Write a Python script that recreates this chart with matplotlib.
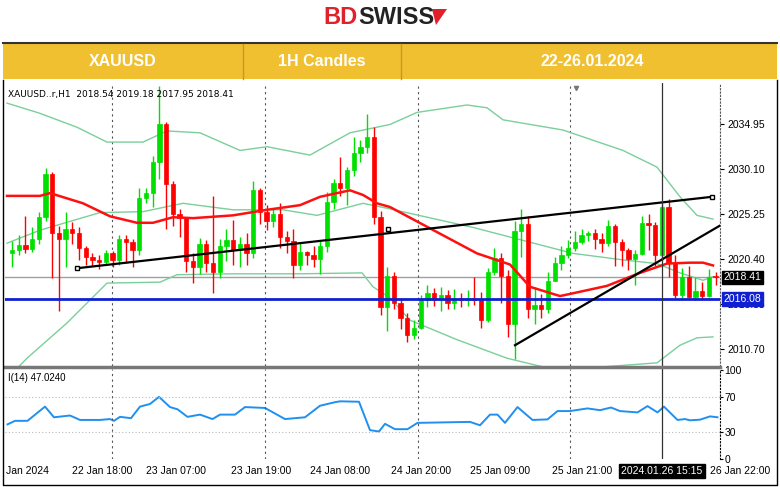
import numpy as np
import matplotlib
matplotlib.use("Agg")
from matplotlib import pyplot as plt
from matplotlib.patches import Rectangle, Polygon

W, H = 780, 487

# ---- candle data (1H, XAUUSD) ----
first_open = 2021.0
closes = [2021.4, 2021.9, 2021.5, 2022.6, 2024.9, 2029.6, 2023.2, 2022.6, 2023.6, 2023.2,
          2021.6, 2020.6, 2020.3, 2020.1, 2021.0, 2020.3, 2022.5, 2022.2, 2021.4, 2027.0,
          2027.5, 2030.8, 2035.0, 2028.5, 2025.2, 2024.8, 2020.2, 2019.5, 2022.0, 2020.0,
          2019.0, 2021.8, 2022.4, 2021.4, 2022.0, 2021.0, 2027.8, 2025.5, 2024.5, 2025.2,
          2022.8, 2022.3, 2019.8, 2021.2, 2020.8, 2020.4, 2021.8, 2026.5, 2028.6, 2028.0,
          2030.0, 2031.8, 2032.5, 2033.6, 2024.9, 2015.2, 2018.6, 2015.6, 2014.0, 2012.2,
          2013.0, 2016.0, 2016.7, 2016.0, 2016.5, 2015.6, 2016.2, 2016.0, 2016.2, 2016.0,
          2013.8, 2019.0, 2020.5, 2018.6, 2013.4, 2023.4, 2024.2, 2015.0, 2015.4, 2015.0,
          2018.0, 2020.0, 2020.8, 2021.6, 2022.2, 2023.0, 2023.2, 2022.6, 2022.1, 2024.0,
          2022.2, 2021.4, 2020.4, 2020.9, 2024.3, 2024.1, 2020.8, 2026.0, 2020.0, 2016.5,
          2018.5, 2016.3, 2016.9, 2016.4, 2018.5, 2018.41]
highs = [2022.3, 2023.0, 2025.0, 2023.8, 2025.5, 2030.2, 2029.8, 2024.0, 2025.5, 2024.4,
         2023.8, 2021.8, 2021.0, 2020.8, 2021.4, 2021.3, 2023.0, 2023.0, 2022.6, 2028.0,
         2028.0, 2031.5, 2039.0, 2035.2, 2028.8, 2025.8, 2024.8, 2021.0, 2022.7, 2022.4,
         2027.2, 2022.6, 2023.6, 2024.6, 2022.8, 2023.2, 2028.8, 2028.0, 2026.2, 2025.8,
         2026.4, 2023.4, 2023.6, 2022.2, 2021.3, 2021.8, 2022.3, 2027.6, 2029.0, 2031.4,
         2030.3, 2033.5, 2033.2, 2036.0, 2034.6, 2025.6, 2019.5, 2019.0, 2016.2, 2014.6,
         2013.8, 2016.5, 2017.6, 2017.3, 2017.4, 2017.0, 2017.2, 2016.7, 2017.0, 2018.5,
         2016.8, 2019.4, 2021.6, 2021.0, 2019.2, 2024.5, 2025.8, 2025.0, 2017.4, 2016.6,
         2019.0, 2020.6, 2021.8, 2022.4, 2023.4, 2023.6, 2023.4, 2023.6, 2023.2, 2024.6,
         2024.2, 2022.5, 2021.6, 2021.4, 2025.0, 2025.2, 2024.4, 2026.3, 2026.9, 2020.8,
         2019.4, 2019.6, 2018.5, 2017.9, 2019.3, 2019.0]
lows = [2019.5, 2020.8, 2021.0, 2021.2, 2022.0, 2024.5, 2018.3, 2014.8, 2019.5, 2022.0,
        2020.3, 2019.8, 2019.6, 2019.3, 2019.8, 2019.5, 2019.8, 2020.0, 2019.5, 2020.8,
        2026.4, 2026.0, 2029.0, 2023.6, 2024.0, 2022.8, 2019.0, 2017.8, 2018.8, 2019.0,
        2016.7, 2018.4, 2020.2, 2019.8, 2019.5, 2019.8, 2020.5, 2024.2, 2023.5, 2023.8,
        2021.6, 2021.0, 2018.3, 2019.2, 2019.8, 2019.5, 2018.8, 2021.2, 2025.8, 2027.2,
        2026.2, 2029.3, 2030.8, 2031.8, 2024.2, 2014.4, 2012.6, 2015.0, 2012.8, 2011.4,
        2011.8, 2012.8, 2015.2, 2015.3, 2014.8, 2015.0, 2015.0, 2015.2, 2015.3, 2015.4,
        2013.0, 2013.6, 2018.7, 2015.6, 2012.0, 2009.6, 2020.6, 2014.0, 2013.4, 2014.0,
        2014.6, 2018.0, 2019.2, 2020.5, 2021.3, 2022.0, 2022.3, 2021.5, 2021.2, 2021.8,
        2019.6, 2019.6, 2019.2, 2017.6, 2020.8, 2021.4, 2019.6, 2020.2, 2018.5, 2016.2,
        2016.0, 2016.2, 2016.0, 2016.0, 2016.3, 2017.6]

# ---- indicator lines (x in screen px, value) ----
upper_px = [7, 40, 77, 107, 143, 167, 200, 240, 267, 310, 350, 390, 417, 467, 487, 503, 563, 623, 657, 680, 697, 713]
upper_val = [2037.2, 2036.1, 2034.6, 2033.0, 2033.0, 2034.2, 2034.0, 2032.1, 2032.5, 2031.6, 2034.0, 2034.9,
             2036.2, 2037.0, 2036.7, 2035.4, 2034.3, 2032.1, 2030.3, 2027.1, 2025.1, 2024.7]
mid_px = [7, 40, 100, 143, 183, 233, 283, 317, 363, 390, 423, 473, 523, 573, 623, 657, 680, 703, 713]
mid_val = [2022.1, 2023.5, 2025.4, 2025.5, 2026.4, 2025.7, 2025.7, 2025.1, 2026.4, 2025.8, 2025.0, 2023.8,
           2022.4, 2021.0, 2020.3, 2019.9, 2018.9, 2018.1, 2018.5]
lower_px = [7, 27, 67, 107, 160, 177, 233, 300, 362, 373, 390, 410, 457, 507, 557, 657, 680, 697, 713]
lower_val = [2007.5, 2009.7, 2013.5, 2017.8, 2017.9, 2018.7, 2018.8, 2018.8, 2018.9, 2017.4, 2016.2, 2013.8,
             2011.7, 2009.7, 2008.4, 2009.2, 2011.1, 2011.9, 2012.0]
ma_px = [7, 40, 50, 83, 110, 137, 153, 173, 193, 233, 267, 300, 320, 350, 363, 377, 390, 430, 477, 510,
         530, 560, 573, 607, 640, 667, 690, 703, 713]
ma_val = [2027.2, 2027.2, 2027.5, 2026.4, 2025.0, 2024.3, 2024.3, 2024.9, 2024.8, 2025.1, 2025.7, 2026.2,
          2027.1, 2027.8, 2027.3, 2026.4, 2026.0, 2023.7, 2021.0, 2019.8, 2017.4, 2016.4, 2016.7, 2017.5,
          2018.9, 2019.9, 2020.0, 2020.0, 2019.7]

rsi_px = [7.5, 15, 27.5, 45, 54, 70, 80, 100, 110, 114, 120, 131, 140, 150, 159, 170, 177.5, 187.5, 200, 212.5,
          220, 235, 245, 265, 285, 305, 320, 335, 340, 359, 370, 379, 385, 395, 407.5, 417.5, 470, 480, 490, 497.5,
          505, 517.5, 532.5, 547.5, 557.5, 570, 587.5, 600, 611, 620, 637.5, 647.5, 657.5, 664, 677.5, 685,
          690, 700, 710, 717.5]
rsi_val = [39, 43, 43, 59, 47, 49, 44, 44, 45, 43, 47.5, 46, 59, 62, 70, 58.5, 56, 47.5, 50, 45,
           50, 50, 58.5, 57.5, 45, 47, 60, 64, 65, 64.5, 32.5, 31, 39.6, 33.6, 33.6, 40.7, 41.8, 38, 50, 50,
           40.7, 58.5, 44, 44.6, 54, 54, 57, 55, 58, 54, 52.5, 59.6, 52.5, 59, 44, 45,
           43.6, 44.3, 48, 47]

time_labels = ["Jan 2024", "22 Jan 18:00", "23 Jan 07:00", "23 Jan 19:00", "24 Jan 08:00",
               "24 Jan 20:00", "25 Jan 09:00", "25 Jan 21:00", "26 Jan 22:00"]
time_label_px = [27, 102, 176, 261, 340, 421, 500, 582, 740]
price_ticks = [2034.95, 2030.10, 2025.25, 2020.40, 2015.55, 2010.70]
last_price = 2018.41
level_price = 2016.08

X0, STEP = 12, 6.7


def bar(px):
    return (np.asarray(px, dtype=float) - X0) / STEP


def rect(x0, y0, x1, y1):
    return [x0 / W, 1 - y1 / H, (x1 - x0) / W, (y1 - y0) / H]


fig = plt.figure(figsize=(W / 100, H / 100), dpi=100)
fig.patch.set_facecolor("white")

# header logo
fig.text(358 / W, 1 - 17 / H, "BD", color="#E0202A", fontsize=17, fontweight="bold",
         ha="right", va="center", family="Liberation Sans")
fig.text(358 / W, 1 - 17 / H, "SWISS", color="#222222", fontsize=17, fontweight="bold",
         ha="left", va="center", family="Liberation Sans")
fig.patches.append(Polygon([(432 / W, 1 - 9 / H), (447 / W, 1 - 9 / H), (436 / W, 1 - 25 / H)],
                           closed=True, transform=fig.transFigure, facecolor="#E0202A", edgecolor="none"))
fig.patches.append(Rectangle((3 / W, 1 - 79 / H), 774 / W, 36 / H, transform=fig.transFigure,
                             facecolor="#F0C030", edgecolor="none"))
fig.lines.append(plt.Line2D([3 / W, 777 / W], [1 - 43 / H] * 2, transform=fig.transFigure,
                            color="#333333", lw=1.5))
for xd in (243, 401):
    fig.lines.append(plt.Line2D([xd / W] * 2, [1 - 44 / H, 1 - 79 / H], transform=fig.transFigure,
                                color="#C89820", lw=1))
for txt, cx in (("XAUUSD", 123), ("1H Candles", 322), ("22-26.01.2024", 592)):
    fig.text(cx / W, 1 - 61 / H, txt, color="white", fontsize=11.5, fontweight="bold",
             ha="center", va="center", family="Liberation Sans")

# ---- main price panel ----
ax = fig.add_axes(rect(5, 83, 720, 366))
n = len(closes)
opens = [first_open] + closes[:-1]
xs = np.arange(n)
for i in range(n):
    o, c = opens[i], closes[i]
    col = "#00E000" if c >= o else "#FF0000"
    ax.vlines(xs[i], lows[i], highs[i], color=col, lw=1, zorder=3)
    ax.add_patch(Rectangle((xs[i] - 0.32, min(o, c)), 0.64, max(abs(c - o), 0.12),
                           facecolor=col, edgecolor=col, lw=0.5, zorder=4))

ax.plot(bar(upper_px), upper_val, color="#7ACF9A", lw=1, zorder=2)
ax.plot(bar(mid_px), mid_val, color="#7ACF9A", lw=1, zorder=2)
ax.plot(bar(lower_px), lower_val, color="#7ACF9A", lw=1, zorder=2)
ax.plot(bar(ma_px), ma_val, color="#FF1010", lw=1.8, zorder=5)

# trend lines
ax.plot(bar([77, 712]), [2019.4, 2027.1], color="black", lw=1.6, zorder=6)
ax.plot(bar([77, 712]), [2019.4, 2027.1], ls="none", marker="s", ms=3.5, mfc="white", mec="black", zorder=7)
ax.plot(bar([388]), [2023.6], ls="none", marker="s", ms=3, mfc="white", mec="black", zorder=7)
ax.plot(bar([515, 720]), [2011.1, 2024.0], color="black", lw=1.6, zorder=6)

ax.axhline(last_price, color="#A0A0A0", lw=1, zorder=1)
ax.axhline(level_price, color="#1020D0", lw=2, zorder=5)

for gx in (112, 265, 418, 570, 720):
    ax.axvline(bar(gx), color="#555555", lw=0.8, ls=(0, (2, 3)), zorder=1)
ax.axvline(bar(662), color="#333333", lw=0.9, zorder=6)
ax.plot(bar([576]), [2038.8], marker="v", color="#777777", ms=3)

ax.set_xlim(bar(5), bar(720))
ax.set_ylim(2008.86, 2039.37)
ax.set_xticks([])
ax.yaxis.tick_right()
ax.set_yticks(price_ticks)
ax.set_yticklabels([f"{p:.2f}" for p in price_ticks], fontsize=7.5, family="Liberation Sans")
ax.tick_params(axis="y", length=3, pad=2)
for s in ("top", "left", "bottom"):
    ax.spines[s].set_visible(False)
ax.spines["right"].set_linestyle((0, (1, 2)))
ax.spines["right"].set_color("#555555")

for val, fc in ((last_price, "black"), (level_price, "#1020D0")):
    ax.text(1.005, val, f"{val:.2f}", transform=ax.get_yaxis_transform(), fontsize=7.5,
            color="white", va="center", ha="left", family="Liberation Sans", zorder=10,
            bbox=dict(boxstyle="square,pad=0.15", fc=fc, ec=fc))

fig.text(8 / W, 1 - 94 / H, "XAUUSD..r,H1  2018.54 2019.18 2017.95 2018.41", fontsize=6.5,
         va="center", family="Liberation Sans Narrow")

# separator
fig.lines.append(plt.Line2D([5 / W, 720 / W], [1 - 367 / H] * 2, transform=fig.transFigure,
                            color="#777777", lw=2.5))

# ---- RSI panel ----
ax2 = fig.add_axes(rect(5, 369, 720, 459))
ax2.plot(bar(rsi_px), rsi_val, color="#2090F0", lw=1.4)
for lv in (70, 30):
    ax2.axhline(lv, color="#BBBBBB", lw=0.8, ls=(0, (1, 2)))
for gx in (112, 265, 418, 570, 720):
    ax2.axvline(bar(gx), color="#555555", lw=0.8, ls=(0, (2, 3)))
ax2.axvline(bar(662), color="#333333", lw=0.9)
ax2.set_xlim(bar(5), bar(720))
ax2.set_ylim(4, 101.4)
ax2.set_xticks([])
ax2.yaxis.tick_right()
ax2.set_yticks([100, 70, 30, 0])
ax2.set_yticklabels(["100", "70", "30", "0"], fontsize=7.5, family="Liberation Sans")
ax2.tick_params(axis="y", length=2, pad=1)
for s in ("top", "left", "bottom"):
    ax2.spines[s].set_visible(False)
ax2.spines["right"].set_linestyle((0, (1, 2)))
fig.text(8 / W, 1 - 378 / H, "I(14) 47.0240", fontsize=7, va="center", family="Liberation Sans")

# time axis
for txt, cx in zip(time_labels, time_label_px):
    fig.text(cx / W, 1 - 471 / H, txt, fontsize=7.5, ha="center", va="center",
             family="Liberation Sans")
fig.text(662 / W, 1 - 471 / H, "2024.01.26 15:15", fontsize=7.5, ha="center", va="center",
         color="white", family="Liberation Sans",
         bbox=dict(boxstyle="square,pad=0.2", fc="black", ec="black"))

# outer frame
fig.lines.append(plt.Line2D([3 / W, 3 / W, 777 / W, 777 / W], [1 - 80 / H, 1 - 485 / H, 1 - 485 / H, 1 - 80 / H],
                            transform=fig.transFigure, color="black", lw=1))

fig.savefig("out.png", dpi=100)
